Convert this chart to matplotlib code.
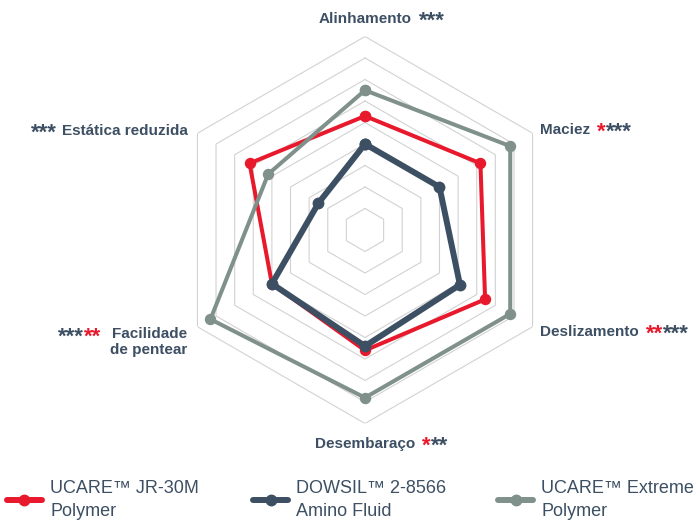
import matplotlib
matplotlib.use("Agg")
import matplotlib.pyplot as plt
import numpy as np
from matplotlib.lines import Line2D

# ---------------- data ----------------
categories = ["Alinhamento", "Maciez", "Deslizamento", "Desembaraço",
              "Facilidade\nde pentear", "Estática reduzida"]
series_names = ["UCARE™ JR-30M\nPolymer", "DOWSIL™ 2-8566\nAmino Fluid",
                "UCARE™ Extreme\nPolymer"]
jr30m = [5.3, 6.2, 6.45, 5.6, 5.0, 6.2]
dowsil = [4.0, 4.0, 5.1, 5.4, 5.0, 2.5]
extreme = [6.5, 7.8, 7.8, 7.8, 8.3, 5.2]
rings = [1, 2, 3, 4, 5, 6, 7, 8, 9]
# significance stars per category: list of (stars, colour key)
stars = [
    [("***", "d")],
    [("*", "r"), ("***", "d")],
    [("**", "r"), ("***", "d")],
    [("*", "r"), ("**", "d")],
    [("***", "d"), ("**", "r")],
    [("***", "d")],
]

# ---------------- style ----------------
RED = "#e8192c"
DARK = "#3d4f63"
GRAY = "#7f918a"
GRID = "#d2d2d2"
star_col = {"r": RED, "d": DARK}
FONT = ["Liberation Sans", "DejaVu Sans"]
plt.rcParams["font.family"] = FONT

W, H = 699, 520
fig = plt.figure(figsize=(W / 100, H / 100), dpi=100)
cx, cy, R = 365, 230, 193.5
ax = fig.add_axes([(cx - R) / W, (H - cy - R) / H, 2 * R / W, 2 * R / H],
                  projection="polar")
ax.set_theta_zero_location("N")
ax.set_theta_direction(-1)
ax.set_ylim(0, rings[-1])
ax.grid(False)
ax.set_xticks([])
ax.set_yticks([])
ax.spines["polar"].set_visible(False)
ax.patch.set_visible(False)

n = len(categories)
theta = np.linspace(0, 2 * np.pi, n, endpoint=False)
theta_c = np.append(theta, theta[0])

for k in rings:
    ax.plot(theta_c, [k] * (n + 1), color=GRID, lw=0.8, zorder=1)

def close(v):
    return list(v) + [v[0]]

ax.plot(theta_c, close(jr30m), color=RED, lw=2.9, marker="o", ms=7.2,
        zorder=3, clip_on=False)
ax.plot(theta_c, close(dowsil), color=DARK, lw=4.3, marker="o", ms=7.5,
        zorder=4, clip_on=False)
ax.plot(theta_c, close(extreme), color=GRAY, lw=2.9, marker="o", ms=7.2,
        zorder=5, clip_on=False)

# ---------------- category labels ----------------
LBL = dict(fontsize=11, fontweight="bold", color=DARK)
STAR = dict(fontsize=16, fontweight="bold")
STAR_DY = -6
rmax = rings[-1]
# (offset px, ha, va, stars side, gap px)
place = [((0, 17.5), "center", "center", "after", 7),
         ((7.5, 3.5), "left", "center", "after", 7),
         ((7.5, -5), "left", "center", "after", 7),
         ((0, -20.5), "center", "center", "after", 7),
         ((-10.4, -7.5), "right", "center", "before", 11),
         ((-9.4, 2.5), "right", "center", "before", 5)]

for i, cat in enumerate(categories):
    off, ha, va, side, gap = place[i]
    lines = cat.split("\n")
    t = ax.annotate(lines[0], xy=(theta[i], rmax), xytext=off,
                    textcoords="offset pixels", ha=ha, va=va,
                    annotation_clip=False, **LBL)
    for j, extra in enumerate(lines[1:]):
        ax.annotate(extra, xy=(theta[i], rmax),
                    xytext=(off[0], off[1] - 15.6 * (j + 1)),
                    textcoords="offset pixels", ha=ha, va=va,
                    annotation_clip=False, **LBL)
    prev = t
    segs = stars[i] if side == "after" else list(reversed(stars[i]))
    for k, (s, c) in enumerate(segs):
        g = gap if k == 0 else 0
        if side == "after":
            prev = ax.annotate(s, xy=(1, 0), xycoords=(prev, t),
                               xytext=(g, STAR_DY), textcoords="offset pixels",
                               ha="left", va="bottom", color=star_col[c],
                               annotation_clip=False, **STAR)
        else:
            prev = ax.annotate(s, xy=(0, 0), xycoords=(prev, t),
                               xytext=(-g, STAR_DY), textcoords="offset pixels",
                               ha="right", va="bottom", color=star_col[c],
                               annotation_clip=False, **STAR)

# ---------------- legend ----------------
colors = [RED, DARK, GRAY]
leg_x = [7, 253, 498]
fs = 13
for name, col, x in zip(series_names, colors, leg_x):
    h = Line2D([], [], color=col, lw=4.3, marker="o", ms=7.5,
               solid_capstyle="round")
    leg = fig.legend([h], [name], loc="center left",
                     bbox_to_anchor=(x / W, 1 - 500 / H), frameon=False,
                     fontsize=fs, handlelength=35 / (fs * 100 / 72),
                     handletextpad=0.45, borderpad=0, borderaxespad=0,
                     labelcolor=DARK)
    for txt in leg.get_texts():
        txt.set_linespacing(1.4)

fig.savefig("out.png", dpi=100)
